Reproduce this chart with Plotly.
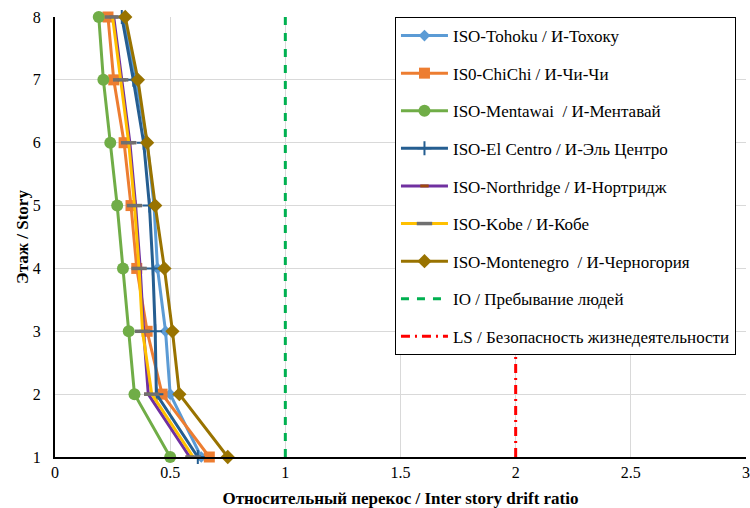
import plotly.graph_objects as go

# Storey numbers and inter-storey drift ratios per ground motion record
stories = [1, 2, 3, 4, 5, 6, 7, 8]

tohoku = [0.635, 0.50, 0.48, 0.445, 0.43, 0.40, 0.35, 0.30]
chichi = [0.67, 0.465, 0.40, 0.355, 0.33, 0.30, 0.255, 0.23]
mentawai = [0.50, 0.345, 0.32, 0.295, 0.27, 0.24, 0.21, 0.19]
el_centro = [0.62, 0.44, 0.435, 0.425, 0.41, 0.385, 0.34, 0.29]
northridge = [0.585, 0.405, 0.385, 0.37, 0.35, 0.325, 0.29, 0.255]
kobe = [0.60, 0.42, 0.38, 0.365, 0.345, 0.32, 0.285, 0.25]
montenegro = [0.75, 0.54, 0.51, 0.475, 0.435, 0.40, 0.36, 0.305]

# Performance limits (IO and LS)
io_limit = [1, 1]
ls_limit = [2, 2]
limit_stories = [1, 8]

x_ticks = [0, 0.5, 1, 1.5, 2, 2.5, 3]
x_tick_text = ["0", "0.5", "1", "1.5", "2", "2.5", "3"]

NB = "\u00a0"
names = [
    "ISO-Tohoku / И-Тохоку",
    "IS0-ChiChi / И-Чи-Чи",
    f"ISO-Mentawai{NB} / И-Ментавай",
    "ISO-El Centro / И-Эль Центро",
    "ISO-Northridge / И-Нортридж",
    "ISO-Kobe / И-Кобе",
    f"ISO-Montenegro{NB} / И-Черногория",
    "IO / Пребывание людей",
    "LS / Безопасность жизнедеятельности",
]

FONT = "Liberation Serif, Times New Roman, serif"

fig = go.Figure()

series = [
    (tohoku, names[0], "#5B9BD5", dict(symbol="diamond", size=9, color="#5B9BD5")),
    (chichi, names[1], "#ED7D31", dict(symbol="square", size=11, color="#ED7D31")),
    (mentawai, names[2], "#70AD47", dict(symbol="circle", size=12, color="#70AD47")),
    (el_centro, names[3], "#255E91",
     dict(symbol="cross-thin", size=10, color="#255E91", line=dict(color="#255E91", width=2))),
    (northridge, names[4], "#7030A0",
     dict(symbol="line-ew", size=6, color="#9E480E", line=dict(color="#9E480E", width=3))),
    (kobe, names[5], "#FFC000",
     dict(symbol="line-ew", size=11, color="#707070", line=dict(color="#707070", width=3.5))),
    (montenegro, names[6], "#997300", dict(symbol="diamond", size=11, color="#997300")),
]

for i, (vals, name, color, marker) in enumerate(series):
    fig.add_trace(go.Scatter(
        x=vals, y=stories, name=name, mode="lines+markers",
        line=dict(color=color, width=3), marker=marker,
        cliponaxis=False, legendgroup=f"g{i}",
    ))

fig.add_trace(go.Scatter(
    x=io_limit, y=limit_stories, name=names[7], mode="lines",
    line=dict(color="#00B050", width=3, dash="8px,8px"), legendgroup="g7",
))
fig.add_trace(go.Scatter(
    x=ls_limit, y=limit_stories, name=names[8], mode="lines",
    line=dict(color="#FF0000", width=3, dash="9px,5px,2px,5px"), legendgroup="g8",
))

fig.update_layout(
    width=750, height=508,
    margin=dict(l=55, r=4, t=17, b=51, autoexpand=False),
    paper_bgcolor="white", plot_bgcolor="white",
    font=dict(family=FONT, size=16, color="black"),
    showlegend=True,
    legend=dict(
        x=0.492, y=1.0, xanchor="left", yanchor="top",
        bgcolor="white", bordercolor="black", borderwidth=1,
        font=dict(family=FONT, size=17, color="black"),
        tracegroupgap=12.5, itemwidth=47,
    ),
    xaxis=dict(
        range=[0, 3], tickvals=x_ticks, ticktext=x_tick_text,
        showgrid=True, gridcolor="#D9D9D9", gridwidth=1,
        showline=True, linecolor="black", linewidth=2,
        zeroline=False, ticks="", ticklen=0, automargin=False,
        tickfont=dict(family=FONT, size=16),
        title=dict(text="<b>Относительный перекос / Inter story drift ratio</b>",
                   font=dict(family=FONT, size=17), standoff=14),
    ),
    yaxis=dict(
        range=[1, 8], tickvals=stories, automargin=False,
        showgrid=True, gridcolor="#D9D9D9", gridwidth=1,
        showline=True, linecolor="black", linewidth=2,
        zeroline=False, ticks="", ticklabelstandoff=9,
        tickfont=dict(family=FONT, size=16),
        title=dict(text="<b>Этаж / Story</b>", font=dict(family=FONT, size=17), standoff=0),
    ),
)

fig.write_html("out.html")
